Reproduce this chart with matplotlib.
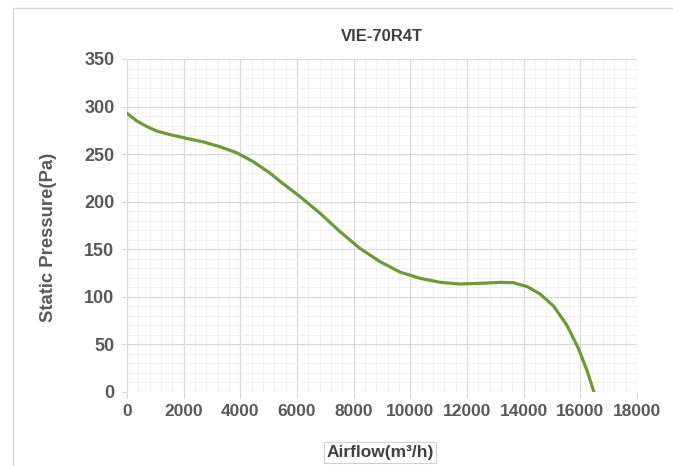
import matplotlib.pyplot as plt
from matplotlib.ticker import MultipleLocator
from matplotlib.patches import Rectangle

plt.rcParams['font.family'] = ['Liberation Sans', 'DejaVu Sans']

# ___data___
title = 'VIE-70R4T'
airflow = [0, 340, 700, 1050, 1520, 2100, 2700, 3280, 3870, 4460, 5050,
           5400, 6100, 6810, 7520, 8220, 8930, 9640, 10340, 11050, 11750,
           12460, 13170, 13640, 13870, 14110, 14580, 15050, 15520, 15930,
           16230, 16480]
pressure = [293, 285, 279, 274.3, 270.5, 266.6, 262.8, 257.8, 251.5, 242, 230,
            221.5, 205.5, 188, 168.5, 151, 137, 126, 119.5, 115.3, 113.5,
            114.2, 115.2, 114.9, 112.8, 111, 103, 90.5, 70.5, 46,
            23, 0]

# ___style___
text_color = '#595959'
line_color = '#6e9a36'

fig = plt.figure(figsize=(6.73, 4.66), dpi=100)
ax = fig.add_axes([0.1887, 0.1588, 0.7578, 0.7146])

# light frame around the whole chart
fig.patches.append(Rectangle((0.019, -0.01), 1.0, 0.993, transform=fig.transFigure,
                             fill=False, edgecolor='#d9d9d9', linewidth=1.0))

ax.plot(airflow, pressure, color=line_color, linewidth=2.3, solid_capstyle='round',
        solid_joinstyle='round', zorder=3)

ax.set_xlim(0, 18000)
ax.set_ylim(0, 350)
ax.xaxis.set_major_locator(MultipleLocator(2000))
ax.xaxis.set_minor_locator(MultipleLocator(400))
ax.yaxis.set_major_locator(MultipleLocator(50))
ax.yaxis.set_minor_locator(MultipleLocator(10))

ax.grid(which='major', color='#d9d9d9', linewidth=0.9)
ax.grid(which='minor', color='#efefef', linewidth=0.6)
ax.set_axisbelow(True)
for s in ax.spines.values():
    s.set_visible(False)

ax.tick_params(which='major', length=4, color='#d9d9d9', labelcolor=text_color, pad=5)
ax.tick_params(axis='x', labelsize=12.5)
ax.tick_params(axis='y', labelsize=13)
ax.tick_params(which='minor', length=0)
for lab in ax.get_xticklabels() + ax.get_yticklabels():
    lab.set_fontweight('bold')

ax.set_title(title, fontsize=12, fontweight='bold', color='#404040', pad=13)
ax.set_ylabel('Static Pressure(Pa)', fontsize=13.3, fontweight='bold', color=text_color)
ax.yaxis.set_label_coords(-0.138, 0.465)
ax.set_xlabel('Airflow(m³/h)', fontsize=12.5, fontweight='bold', color='#404040',
              bbox=dict(boxstyle='square,pad=0.15', facecolor='white', edgecolor='#d0d0d0', linewidth=0.8))
ax.xaxis.set_label_coords(0.496, -0.159)

fig.savefig('out.png', dpi=100)
